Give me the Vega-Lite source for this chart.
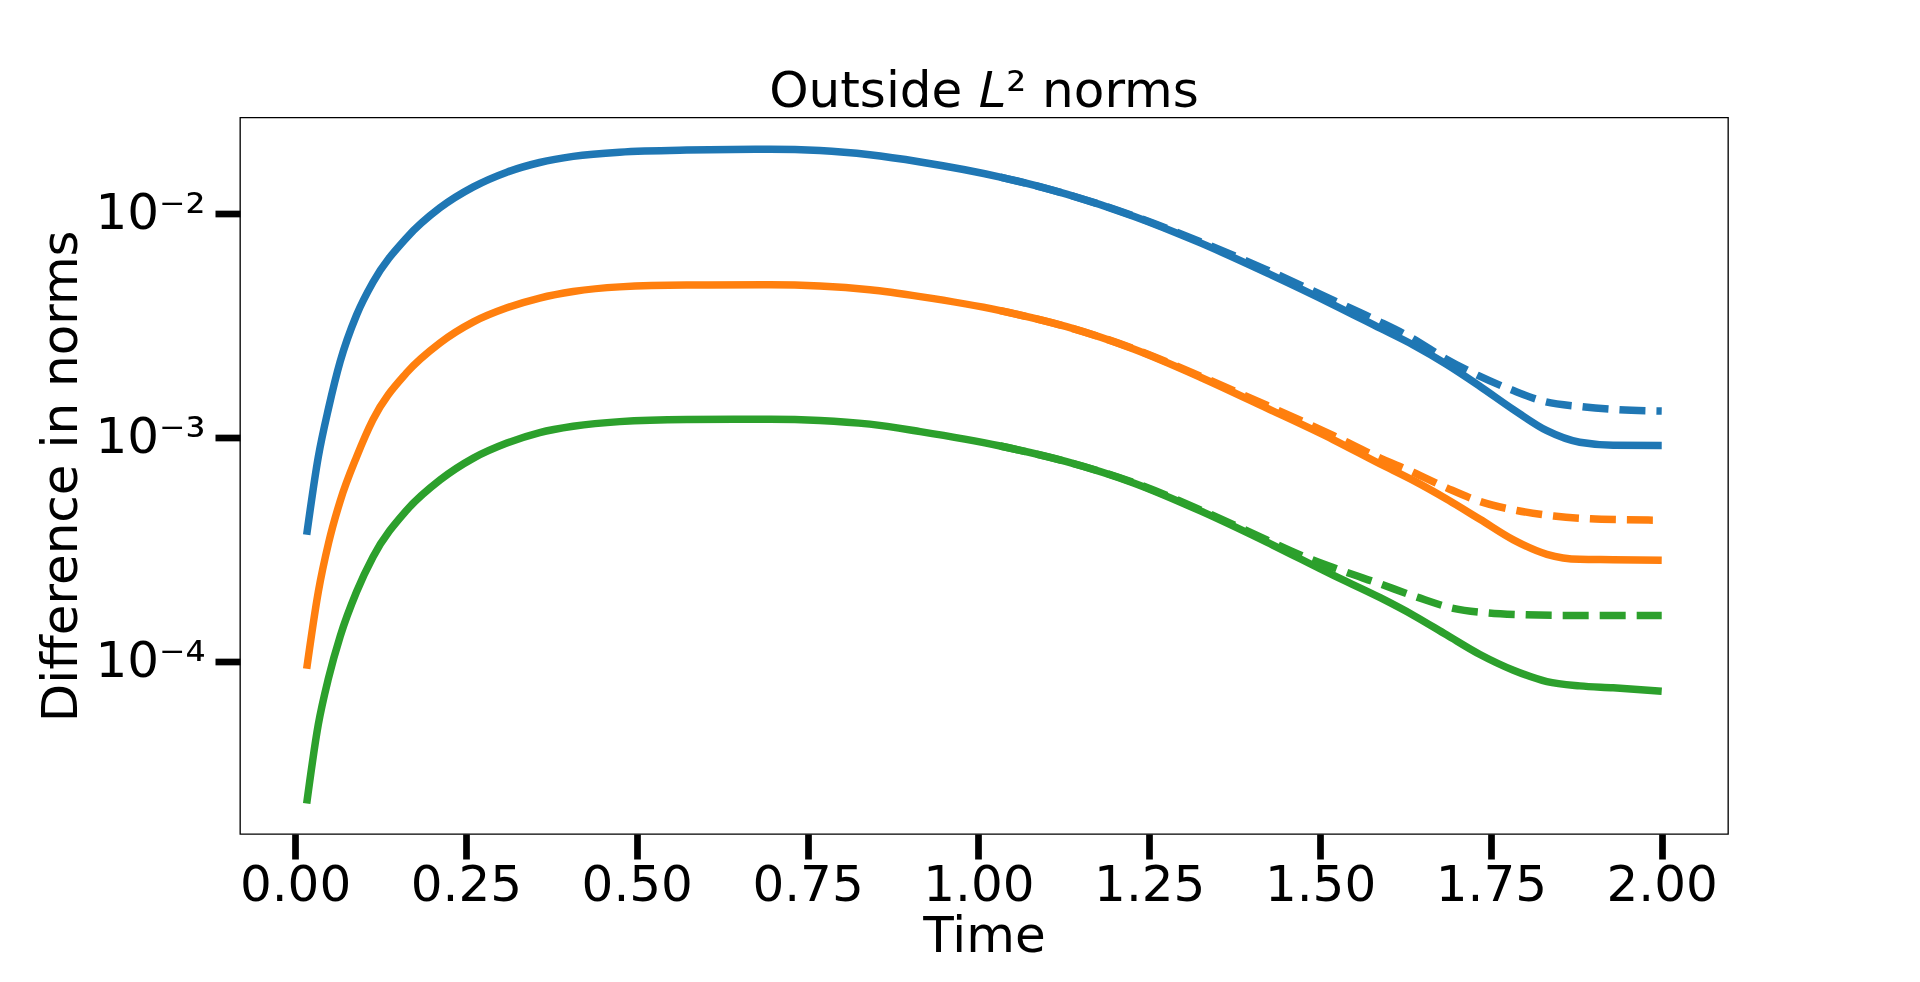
{
  "$schema": "https://vega.github.io/schema/vega-lite/v6.json",
  "width": 1488,
  "height": 716.5,
  "autosize": {"type": "none"},
  "padding": {"left": 240, "top": 117.5, "right": 192, "bottom": 148},
  "background": "white",
  "config": {
    "font": "DejaVu Sans",
    "view": {"stroke": "#000000", "strokeWidth": 1.33},
    "axis": {
      "grid": false,
      "domain": false,
      "tickColor": "#000000",
      "tickWidth": 6.7,
      "tickSize": 25,
      "labelColor": "#000000",
      "labelFontSize": 50,
      "labelFont": "DejaVu Sans",
      "titleFont": "DejaVu Sans",
      "titleFontSize": 50,
      "titleFontWeight": "normal",
      "titleColor": "#000000",
      "labelOverlap": false,
      "labelFlush": false
    }
  },
  "title": {
    "text": "Outside 𝐿² norms",
    "font": "DejaVu Sans",
    "fontSize": 50,
    "fontWeight": "normal",
    "color": "#000000",
    "anchor": "middle",
    "baseline": "alphabetic",
    "offset": -39
  },
  "data": {
    "values": [
      {"t": 0.017, "v": 3.67e-4, "s": "a", "k": "solid"},
      {"t": 0.034, "v": 8.18e-4, "s": "a", "k": "solid"},
      {"t": 0.049, "v": 1.35e-3, "s": "a", "k": "solid"},
      {"t": 0.066, "v": 2.18e-3, "s": "a", "k": "solid"},
      {"t": 0.090, "v": 3.52e-3, "s": "a", "k": "solid"},
      {"t": 0.114, "v": 4.93e-3, "s": "a", "k": "solid"},
      {"t": 0.163, "v": 7.78e-3, "s": "a", "k": "solid"},
      {"t": 0.212, "v": 1.06e-2, "s": "a", "k": "solid"},
      {"t": 0.261, "v": 1.315e-2, "s": "a", "k": "solid"},
      {"t": 0.310, "v": 1.53e-2, "s": "a", "k": "solid"},
      {"t": 0.358, "v": 1.69e-2, "s": "a", "k": "solid"},
      {"t": 0.407, "v": 1.80e-2, "s": "a", "k": "solid"},
      {"t": 0.475, "v": 1.88e-2, "s": "a", "k": "solid"},
      {"t": 0.573, "v": 1.92e-2, "s": "a", "k": "solid"},
      {"t": 0.695, "v": 1.935e-2, "s": "a", "k": "solid"},
      {"t": 0.768, "v": 1.91e-2, "s": "a", "k": "solid"},
      {"t": 0.841, "v": 1.83e-2, "s": "a", "k": "solid"},
      {"t": 0.915, "v": 1.70e-2, "s": "a", "k": "solid"},
      {"t": 1.032, "v": 1.455e-2, "s": "a", "k": "solid"},
      {"t": 1.129, "v": 1.22e-2, "s": "a", "k": "solid"},
      {"t": 1.227, "v": 9.73e-3, "s": "a", "k": "solid"},
      {"t": 1.324, "v": 7.41e-3, "s": "a", "k": "solid"},
      {"t": 1.422, "v": 5.43e-3, "s": "a", "k": "solid"},
      {"t": 1.519, "v": 3.92e-3, "s": "a", "k": "solid"},
      {"t": 1.588, "v": 3.07e-3, "s": "a", "k": "solid"},
      {"t": 1.637, "v": 2.58e-3, "s": "a", "k": "solid"},
      {"t": 1.685, "v": 2.12e-3, "s": "a", "k": "solid"},
      {"t": 1.734, "v": 1.69e-3, "s": "a", "k": "solid"},
      {"t": 1.783, "v": 1.33e-3, "s": "a", "k": "solid"},
      {"t": 1.832, "v": 1.07e-3, "s": "a", "k": "solid"},
      {"t": 1.880, "v": 9.5e-4, "s": "a", "k": "solid"},
      {"t": 1.929, "v": 9.22e-4, "s": "a", "k": "solid"},
      {"t": 2.000, "v": 9.20e-4, "s": "a", "k": "solid"},

      {"t": 0.017, "v": 9.25e-5, "s": "b", "k": "solid"},
      {"t": 0.034, "v": 2.04e-4, "s": "b", "k": "solid"},
      {"t": 0.049, "v": 3.37e-4, "s": "b", "k": "solid"},
      {"t": 0.066, "v": 5.19e-4, "s": "b", "k": "solid"},
      {"t": 0.090, "v": 8.18e-4, "s": "b", "k": "solid"},
      {"t": 0.114, "v": 1.20e-3, "s": "b", "k": "solid"},
      {"t": 0.163, "v": 1.94e-3, "s": "b", "k": "solid"},
      {"t": 0.212, "v": 2.64e-3, "s": "b", "k": "solid"},
      {"t": 0.261, "v": 3.28e-3, "s": "b", "k": "solid"},
      {"t": 0.310, "v": 3.79e-3, "s": "b", "k": "solid"},
      {"t": 0.358, "v": 4.19e-3, "s": "b", "k": "solid"},
      {"t": 0.407, "v": 4.48e-3, "s": "b", "k": "solid"},
      {"t": 0.475, "v": 4.70e-3, "s": "b", "k": "solid"},
      {"t": 0.573, "v": 4.79e-3, "s": "b", "k": "solid"},
      {"t": 0.695, "v": 4.80e-3, "s": "b", "k": "solid"},
      {"t": 0.768, "v": 4.74e-3, "s": "b", "k": "solid"},
      {"t": 0.841, "v": 4.56e-3, "s": "b", "k": "solid"},
      {"t": 0.915, "v": 4.25e-3, "s": "b", "k": "solid"},
      {"t": 1.032, "v": 3.68e-3, "s": "b", "k": "solid"},
      {"t": 1.129, "v": 3.12e-3, "s": "b", "k": "solid"},
      {"t": 1.227, "v": 2.48e-3, "s": "b", "k": "solid"},
      {"t": 1.324, "v": 1.86e-3, "s": "b", "k": "solid"},
      {"t": 1.422, "v": 1.35e-3, "s": "b", "k": "solid"},
      {"t": 1.519, "v": 9.77e-4, "s": "b", "k": "solid"},
      {"t": 1.588, "v": 7.6e-4, "s": "b", "k": "solid"},
      {"t": 1.637, "v": 6.4e-4, "s": "b", "k": "solid"},
      {"t": 1.685, "v": 5.3e-4, "s": "b", "k": "solid"},
      {"t": 1.734, "v": 4.3e-4, "s": "b", "k": "solid"},
      {"t": 1.783, "v": 3.48e-4, "s": "b", "k": "solid"},
      {"t": 1.832, "v": 3.0e-4, "s": "b", "k": "solid"},
      {"t": 1.880, "v": 2.85e-4, "s": "b", "k": "solid"},
      {"t": 1.929, "v": 2.84e-4, "s": "b", "k": "solid"},
      {"t": 2.000, "v": 2.82e-4, "s": "b", "k": "solid"},

      {"t": 0.017, "v": 2.31e-5, "s": "c", "k": "solid"},
      {"t": 0.034, "v": 5.21e-5, "s": "c", "k": "solid"},
      {"t": 0.049, "v": 8.41e-5, "s": "c", "k": "solid"},
      {"t": 0.066, "v": 1.29e-4, "s": "c", "k": "solid"},
      {"t": 0.090, "v": 2.04e-4, "s": "c", "k": "solid"},
      {"t": 0.114, "v": 2.92e-4, "s": "c", "k": "solid"},
      {"t": 0.163, "v": 4.71e-4, "s": "c", "k": "solid"},
      {"t": 0.212, "v": 6.44e-4, "s": "c", "k": "solid"},
      {"t": 0.261, "v": 8.07e-4, "s": "c", "k": "solid"},
      {"t": 0.310, "v": 9.42e-4, "s": "c", "k": "solid"},
      {"t": 0.358, "v": 1.05e-3, "s": "c", "k": "solid"},
      {"t": 0.407, "v": 1.12e-3, "s": "c", "k": "solid"},
      {"t": 0.475, "v": 1.175e-3, "s": "c", "k": "solid"},
      {"t": 0.573, "v": 1.20e-3, "s": "c", "k": "solid"},
      {"t": 0.695, "v": 1.205e-3, "s": "c", "k": "solid"},
      {"t": 0.768, "v": 1.19e-3, "s": "c", "k": "solid"},
      {"t": 0.841, "v": 1.145e-3, "s": "c", "k": "solid"},
      {"t": 0.915, "v": 1.06e-3, "s": "c", "k": "solid"},
      {"t": 1.032, "v": 9.14e-4, "s": "c", "k": "solid"},
      {"t": 1.129, "v": 7.78e-4, "s": "c", "k": "solid"},
      {"t": 1.227, "v": 6.25e-4, "s": "c", "k": "solid"},
      {"t": 1.324, "v": 4.70e-4, "s": "c", "k": "solid"},
      {"t": 1.422, "v": 3.40e-4, "s": "c", "k": "solid"},
      {"t": 1.519, "v": 2.42e-4, "s": "c", "k": "solid"},
      {"t": 1.588, "v": 1.92e-4, "s": "c", "k": "solid"},
      {"t": 1.637, "v": 1.60e-4, "s": "c", "k": "solid"},
      {"t": 1.685, "v": 1.31e-4, "s": "c", "k": "solid"},
      {"t": 1.734, "v": 1.07e-4, "s": "c", "k": "solid"},
      {"t": 1.783, "v": 9.1e-5, "s": "c", "k": "solid"},
      {"t": 1.832, "v": 8.1e-5, "s": "c", "k": "solid"},
      {"t": 1.880, "v": 7.75e-5, "s": "c", "k": "solid"},
      {"t": 1.929, "v": 7.60e-5, "s": "c", "k": "solid"},
      {"t": 2.000, "v": 7.34e-5, "s": "c", "k": "solid"},

      {"t": 1.032, "v": 1.455e-2, "s": "a", "k": "dashed"},
      {"t": 1.129, "v": 1.22e-2, "s": "a", "k": "dashed"},
      {"t": 1.227, "v": 9.76e-3, "s": "a", "k": "dashed"},
      {"t": 1.324, "v": 7.50e-3, "s": "a", "k": "dashed"},
      {"t": 1.422, "v": 5.60e-3, "s": "a", "k": "dashed"},
      {"t": 1.519, "v": 4.10e-3, "s": "a", "k": "dashed"},
      {"t": 1.583, "v": 3.33e-3, "s": "a", "k": "dashed"},
      {"t": 1.635, "v": 2.77e-3, "s": "a", "k": "dashed"},
      {"t": 1.683, "v": 2.25e-3, "s": "a", "k": "dashed"},
      {"t": 1.731, "v": 1.89e-3, "s": "a", "k": "dashed"},
      {"t": 1.780, "v": 1.63e-3, "s": "a", "k": "dashed"},
      {"t": 1.830, "v": 1.44e-3, "s": "a", "k": "dashed"},
      {"t": 1.883, "v": 1.37e-3, "s": "a", "k": "dashed"},
      {"t": 1.934, "v": 1.33e-3, "s": "a", "k": "dashed"},
      {"t": 2.000, "v": 1.31e-3, "s": "a", "k": "dashed"},

      {"t": 1.032, "v": 3.68e-3, "s": "b", "k": "dashed"},
      {"t": 1.129, "v": 3.12e-3, "s": "b", "k": "dashed"},
      {"t": 1.227, "v": 2.49e-3, "s": "b", "k": "dashed"},
      {"t": 1.324, "v": 1.88e-3, "s": "b", "k": "dashed"},
      {"t": 1.422, "v": 1.39e-3, "s": "b", "k": "dashed"},
      {"t": 1.519, "v": 1.02e-3, "s": "b", "k": "dashed"},
      {"t": 1.583, "v": 8.2e-4, "s": "b", "k": "dashed"},
      {"t": 1.636, "v": 6.98e-4, "s": "b", "k": "dashed"},
      {"t": 1.686, "v": 5.93e-4, "s": "b", "k": "dashed"},
      {"t": 1.737, "v": 5.13e-4, "s": "b", "k": "dashed"},
      {"t": 1.788, "v": 4.71e-4, "s": "b", "k": "dashed"},
      {"t": 1.842, "v": 4.45e-4, "s": "b", "k": "dashed"},
      {"t": 1.896, "v": 4.32e-4, "s": "b", "k": "dashed"},
      {"t": 1.949, "v": 4.28e-4, "s": "b", "k": "dashed"},
      {"t": 2.000, "v": 4.26e-4, "s": "b", "k": "dashed"},

      {"t": 1.032, "v": 9.14e-4, "s": "c", "k": "dashed"},
      {"t": 1.129, "v": 7.78e-4, "s": "c", "k": "dashed"},
      {"t": 1.227, "v": 6.28e-4, "s": "c", "k": "dashed"},
      {"t": 1.324, "v": 4.75e-4, "s": "c", "k": "dashed"},
      {"t": 1.422, "v": 3.48e-4, "s": "c", "k": "dashed"},
      {"t": 1.471, "v": 2.98e-4, "s": "c", "k": "dashed"},
      {"t": 1.539, "v": 2.49e-4, "s": "c", "k": "dashed"},
      {"t": 1.583, "v": 2.24e-4, "s": "c", "k": "dashed"},
      {"t": 1.642, "v": 1.93e-4, "s": "c", "k": "dashed"},
      {"t": 1.695, "v": 1.72e-4, "s": "c", "k": "dashed"},
      {"t": 1.747, "v": 1.64e-4, "s": "c", "k": "dashed"},
      {"t": 1.800, "v": 1.61e-4, "s": "c", "k": "dashed"},
      {"t": 1.854, "v": 1.60e-4, "s": "c", "k": "dashed"},
      {"t": 1.926, "v": 1.60e-4, "s": "c", "k": "dashed"},
      {"t": 2.000, "v": 1.60e-4, "s": "c", "k": "dashed"}
    ]
  },
  "encoding": {
    "x": {
      "field": "t",
      "type": "quantitative",
      "scale": {"domain": [-0.0806, 2.097], "nice": false, "zero": false},
      "axis": {
        "title": "Time",
        "values": [0, 0.25, 0.5, 0.75, 1, 1.25, 1.5, 1.75, 2],
        "format": ".2f",
        "labelPadding": 1,
        "titlePadding": 1
      }
    },
    "y": {
      "field": "v",
      "type": "quantitative",
      "scale": {"type": "log", "domain": [1.688e-5, 0.02685], "nice": false},
      "axis": {
        "title": "Difference in norms",
        "values": [0.01, 0.001, 0.0001],
        "labelExpr": "datum.value > 0.005 ? '10⁻²' : (datum.value > 0.0005 ? '10⁻³' : '10⁻⁴')",
        "labelPadding": 10,
        "titlePadding": 8
      }
    },
    "color": {
      "field": "s",
      "type": "nominal",
      "scale": {"domain": ["a", "b", "c"], "range": ["#1f77b4", "#ff7f0e", "#2ca02c"]},
      "legend": null
    }
  },
  "layer": [
    {
      "transform": [{"filter": "datum.k == 'solid'"}],
      "mark": {"type": "line", "strokeWidth": 7.5, "interpolate": "monotone", "strokeCap": "butt", "clip": true}
    },
    {
      "transform": [{"filter": "datum.k == 'dashed'"}],
      "mark": {"type": "line", "strokeWidth": 7.5, "interpolate": "monotone", "strokeCap": "butt", "strokeDash": [26, 11], "clip": true}
    }
  ]
}
